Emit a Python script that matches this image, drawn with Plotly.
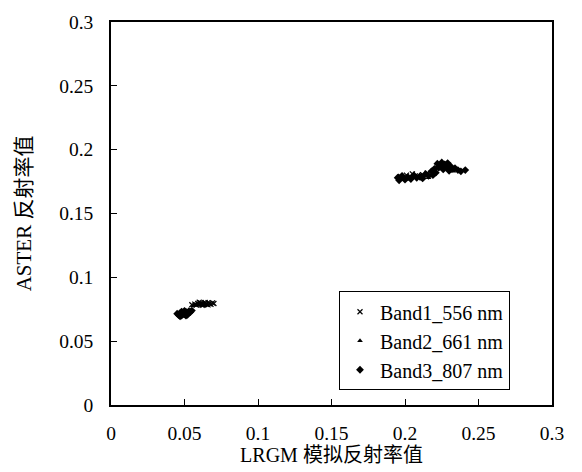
import plotly.graph_objects as go

# LRGM simulated reflectance (x) vs ASTER reflectance (y), three bands
band1_x = [0.055, 0.057, 0.058, 0.059, 0.060, 0.061, 0.062, 0.063, 0.064, 0.065,
           0.066, 0.067, 0.068, 0.069, 0.070, 0.060, 0.062, 0.064, 0.066,
           0.197, 0.199, 0.201, 0.203, 0.205, 0.207, 0.209, 0.212, 0.215, 0.224, 0.229]
band1_y = [0.0785, 0.0790, 0.0782, 0.0795, 0.0788, 0.0800, 0.0792, 0.0785, 0.0798, 0.0790,
           0.0802, 0.0795, 0.0788, 0.0800, 0.0795, 0.0805, 0.0780, 0.0803, 0.0784,
           0.1790, 0.1775, 0.1800, 0.1785, 0.1810, 0.1795, 0.1780, 0.1805, 0.1815, 0.1855, 0.1870]

band2_x = [0.056, 0.058, 0.060, 0.061, 0.063, 0.065, 0.059, 0.062, 0.064,
           0.198, 0.202, 0.206, 0.211, 0.216, 0.219, 0.222, 0.226, 0.230, 0.233]
band2_y = [0.0778, 0.0783, 0.0779, 0.0787, 0.0781, 0.0786, 0.0791, 0.0795, 0.0777,
           0.1765, 0.1770, 0.1790, 0.1800, 0.1780, 0.1840, 0.1870, 0.1880, 0.1850, 0.1830]

band3_x = [0.045, 0.046, 0.047, 0.048, 0.049, 0.050, 0.051, 0.052, 0.053, 0.054,
           0.055, 0.047, 0.049, 0.051, 0.053, 0.048, 0.050, 0.052,
           0.195, 0.196, 0.198, 0.200, 0.202, 0.204, 0.206, 0.208, 0.210, 0.212,
           0.214, 0.216, 0.218, 0.219, 0.220, 0.221, 0.222, 0.223, 0.224, 0.225,
           0.226, 0.227, 0.228, 0.229, 0.230, 0.231, 0.232, 0.234, 0.236, 0.238, 0.241]
band3_y = [0.0715, 0.0705, 0.0720, 0.0700, 0.0725, 0.0710, 0.0730, 0.0718, 0.0735, 0.0728,
           0.0740, 0.0695, 0.0712, 0.0700, 0.0722, 0.0732, 0.0738, 0.0706,
           0.1780, 0.1760, 0.1795, 0.1765, 0.1785, 0.1770, 0.1800, 0.1780, 0.1790, 0.1775,
           0.1810, 0.1795, 0.1830, 0.1800, 0.1850, 0.1820, 0.1890, 0.1860, 0.1875, 0.1900,
           0.1845, 0.1885, 0.1865, 0.1895, 0.1835, 0.1870, 0.1850, 0.1855, 0.1840, 0.1830, 0.1840]

x_ticks = [0, 0.05, 0.1, 0.15, 0.2, 0.25, 0.3]
x_labels = ["0", "0.05", "0.1", "0.15", "0.2", "0.25", "0.3"]
y_ticks = [0, 0.05, 0.1, 0.15, 0.2, 0.25, 0.3]
y_labels = ["0", "0.05", "0.1", "0.15", "0.2", "0.25", "0.3"]

serif = "Liberation Serif, Noto Sans CJK SC, serif"

fig = go.Figure()
fig.add_trace(go.Scatter(x=band1_x, y=band1_y, mode="markers", name="Band1_556 nm",
                         marker=dict(symbol="x-thin", size=5, color="black",
                                     line=dict(width=1.2, color="black"))))
fig.add_trace(go.Scatter(x=band2_x, y=band2_y, mode="markers", name="Band2_661 nm",
                         marker=dict(symbol="triangle-up", size=5, color="black")))
fig.add_trace(go.Scatter(x=band3_x, y=band3_y, mode="markers", name="Band3_807 nm",
                         marker=dict(symbol="diamond", size=6, color="black")))

axis_common = dict(
    showline=True, linecolor="black", linewidth=1.5, mirror=True,
    ticks="inside", ticklen=6, tickcolor="black", tickwidth=1.2,
    showgrid=False, zeroline=False, range=[0, 0.3],
    tickfont=dict(family=serif, size=19.5, color="black"),
)

fig.update_layout(
    width=582, height=472,
    margin=dict(l=111, r=30, t=12, b=66),
    paper_bgcolor="white", plot_bgcolor="white",
    font=dict(family=serif, size=19.5, color="black"),
    showlegend=True,
    legend=dict(x=0.517, y=0.297, xanchor="left", yanchor="top",
                bordercolor="black", borderwidth=1, bgcolor="white",
                font=dict(family=serif, size=20, color="black"),
                itemwidth=30, tracegroupgap=0),
    xaxis=dict(**axis_common, tickvals=x_ticks, ticktext=x_labels,
               ticklabelstandoff=10,
               title=dict(text="LRGM 模拟反射率值", standoff=2,
                          font=dict(family=serif, size=20, color="black"))),
    yaxis=dict(**axis_common, tickvals=y_ticks, ticktext=y_labels,
               ticklabelstandoff=12,
               title=dict(text="ASTER 反射率值", standoff=22,
                          font=dict(family=serif, size=21, color="black"))),
)

fig.write_html("out.html")
